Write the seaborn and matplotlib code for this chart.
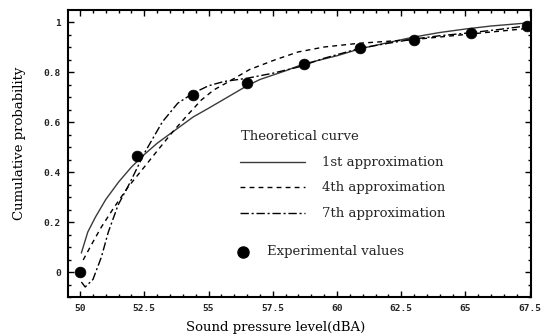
import matplotlib
matplotlib.use("Agg")
import matplotlib.pyplot as plt
import seaborn as sns
import pandas as pd
from matplotlib.lines import Line2D
from matplotlib.ticker import MultipleLocator

# ---- data ----
exp_x = [50.0, 52.2, 54.4, 56.5, 58.7, 60.9, 63.0, 65.2, 67.4]
exp_y = [0.0, 0.465, 0.71, 0.755, 0.832, 0.895, 0.93, 0.955, 0.984]

# 1st approximation (solid)
first_x = [50.05, 50.3, 50.6, 51.0, 51.5, 52.0, 52.5, 53.0, 54.0, 54.4, 55.0, 56.0, 56.5,
           57.0, 58.0, 58.7, 60.0, 60.9, 62.0, 63.0, 64.0, 65.0, 66.0, 67.5]
first_y = [0.076, 0.16, 0.22, 0.29, 0.36, 0.42, 0.47, 0.515, 0.59, 0.62, 0.655, 0.715, 0.745,
           0.77, 0.805, 0.832, 0.865, 0.893, 0.918, 0.94, 0.958, 0.972, 0.984, 0.997]

# 4th approximation (dashed)
fourth_x = [50.12, 50.5, 50.83, 51.3, 51.87, 52.5, 53.03, 53.6, 54.2, 54.72, 55.2, 55.76,
            56.6, 57.57, 58.48, 59.5, 60.87, 62.0, 63.0, 64.0, 65.2, 66.3, 67.5]
fourth_y = [0.048, 0.12, 0.18, 0.255, 0.34, 0.42, 0.488, 0.56, 0.63, 0.688, 0.728, 0.76,
            0.81, 0.848, 0.88, 0.9, 0.915, 0.923, 0.93, 0.94, 0.952, 0.963, 0.975]

# 7th approximation (dash-dot)
seventh_x = [50.05, 50.2, 50.5, 50.83, 51.1, 51.48, 51.93, 52.5, 53.2, 53.8, 54.4, 55.0,
             55.6, 56.5, 57.5, 58.5, 59.5, 60.9, 62.0, 63.0, 64.0, 65.2, 66.3, 67.5]
seventh_y = [-0.04, -0.06, -0.03, 0.06, 0.16, 0.268, 0.355, 0.475, 0.6, 0.675, 0.715, 0.745,
             0.762, 0.775, 0.795, 0.82, 0.855, 0.895, 0.915, 0.932, 0.945, 0.957, 0.97, 0.986]

xticks = [50, 52.5, 55, 57.5, 60, 62.5, 65, 67.5]
xtick_labels = ["50", "52.5", "55", "57.5", "60", "62.5", "65", "67.5"]
yticks = [0, 0.2, 0.4, 0.6, 0.8, 1.0]
ytick_labels = ["0", "0.2", "0.4", "0.6", "0.8", "1"]

legend_title = "Theoretical curve"
legend_labels = ["1st approximation", "4th approximation", "7th approximation"]
exp_label = "Experimental values"

# ---- figure ----
sns.set_theme(style="white")
plt.rcParams['font.family'] = ['DejaVu Serif']

W, H = 556, 336
fig = plt.figure(figsize=(W / 100, H / 100), dpi=100)
ax = fig.add_axes([68 / W, 1 - 297 / H, (531 - 68) / W, (297 - 10) / H])

styles = [dict(color='#3a3a3a', lw=1.0, linestyle='-'),
          dict(color='black', lw=1.0, linestyle=(0, (3.5, 3))),
          dict(color='black', lw=1.0, linestyle=(0, (6, 2, 1.5, 2)))]

for xs, ys, st in [(first_x, first_y, styles[0]),
                   (fourth_x, fourth_y, styles[1]),
                   (seventh_x, seventh_y, styles[2])]:
    sns.lineplot(x=xs, y=ys, ax=ax, sort=False, estimator=None, **st)

sns.scatterplot(x=exp_x, y=exp_y, ax=ax, s=60, color='black', edgecolor='black',
                linewidth=0.5, zorder=5)

ax.set_xlim(49.53, 67.55)
ax.set_ylim(-0.1, 1.048)
ax.set_xticks(xticks)
ax.set_xticklabels(xtick_labels)
ax.set_yticks(yticks)
ax.set_yticklabels(ytick_labels)
ax.xaxis.set_minor_locator(MultipleLocator(0.5))
ax.yaxis.set_minor_locator(MultipleLocator(0.05))
ax.tick_params(which='both', direction='in', top=True, right=True, bottom=True, left=True,
               color='black', width=1.0)
ax.tick_params(which='major', length=4, pad=5)
ax.tick_params(which='minor', length=2)
for lab in ax.get_xticklabels() + ax.get_yticklabels():
    lab.set_fontfamily('DejaVu Sans Mono')
    lab.set_fontweight('bold')
    lab.set_fontsize(6.8)
for sp in ax.spines.values():
    sp.set_visible(True)
    sp.set_color('black')
    sp.set_linewidth(1.5)
ax.set_xlabel("")
ax.set_ylabel("")

# axis labels
fig.text(276 / W, 1 - 327 / H, "Sound pressure level(dBA)", ha='center', va='center',
         fontsize=9.5, color='black')
fig.text(20 / W, 1 - 143 / H, "Cumulative probability", ha='center', va='center',
         rotation=90, fontsize=9.5, color='black')

# legend (manual)
fig.text(241 / W, 1 - 137 / H, legend_title, ha='left', va='center', fontsize=9.5)
for yy, lab, st in zip([162, 187, 213], legend_labels, styles):
    fig.add_artist(Line2D([240 / W, 305 / W], [1 - yy / H] * 2, transform=fig.transFigure, **st))
    fig.text(322 / W, 1 - yy / H, lab, ha='left', va='center', fontsize=9.5)
fig.add_artist(Line2D([243 / W], [1 - 252 / H], transform=fig.transFigure, marker='o',
                      ms=8, color='black', linestyle='none'))
fig.text(267 / W, 1 - 252 / H, exp_label, ha='left', va='center', fontsize=9.5)

fig.savefig("out.png", dpi=100)
